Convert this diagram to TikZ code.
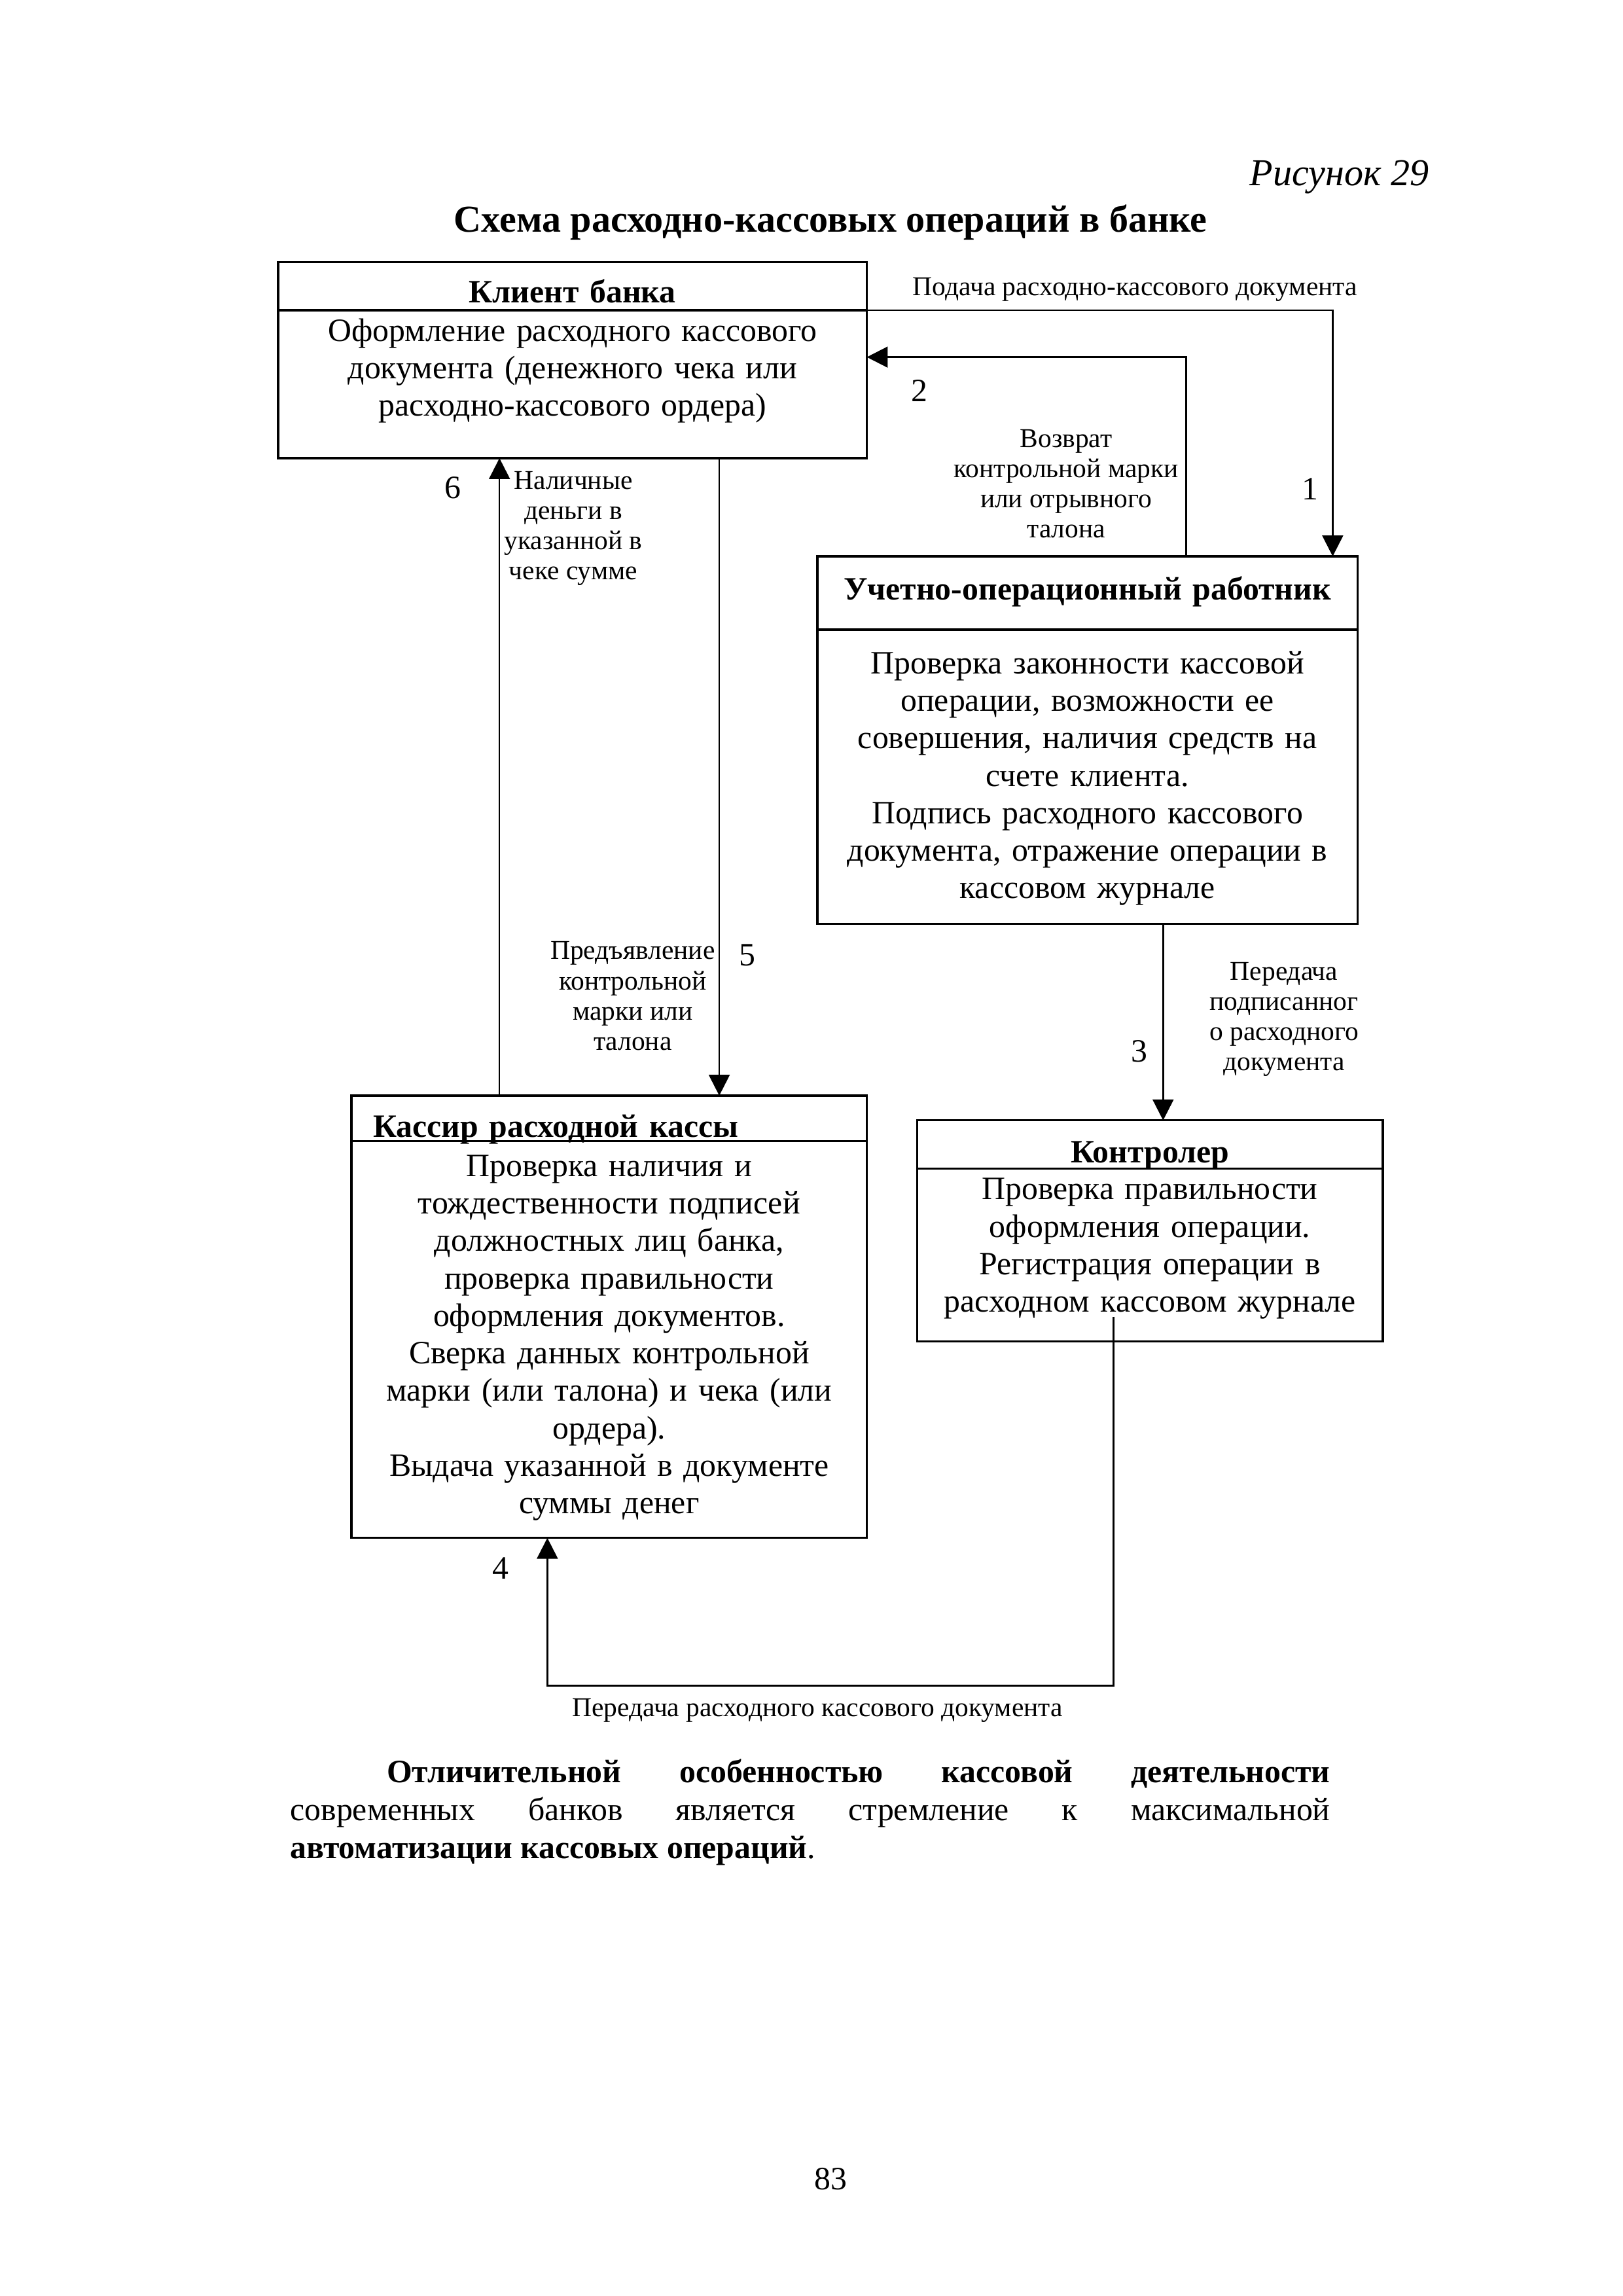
\documentclass[tikz,border=0pt]{standalone}
\usepackage{fontspec}
\setmainfont{Liberation Serif}
\usetikzlibrary{arrows.meta,positioning}

\begin{document}
\begin{tikzpicture}[
  head/.style={draw, line width=0.8pt, font=\bfseries\fontsize{12}{13.8}\selectfont,
    align=center, inner xsep=0.1cm, inner ysep=0pt, outer sep=0pt},
  body/.style={draw, line width=0.8pt, font=\fontsize{12}{13.8}\selectfont,
    align=center, inner xsep=0.1cm, inner ysep=0pt, outer sep=0pt},
  note/.style={font=\fontsize{10}{11.1}\selectfont, align=center, inner sep=0pt},
  num/.style={font=\fontsize{12}{13.8}\selectfont, inner sep=0pt},
  arrow/.style={-{Triangle[length=0.27cm, width=0.27cm]}, line width=0.6pt}
]
\useasboundingbox (0,0) rectangle (21,-29.716);

\node[anchor=east, inner sep=0pt, font=\itshape\fontsize{14}{16}\selectfont] (fignum) at (18.50,-2.29) {Рисунок 29};
\node[inner sep=0pt, font=\bfseries\fontsize{14}{16}\selectfont] (title) at (10.75,-2.88) {Схема расходно-кассовых операций в банке};

\node[head, anchor=north west, text width=7.42cm, text height=0.524cm, text depth=0.102cm] (klienthead) at (3.60,-3.39) {Клиент банка};
\node[body, below=0pt of klienthead, text width=7.42cm, text height=0.40cm, text depth=1.514cm] (klientbody)
  {Оформление расходного кассового\\документа (денежного чека или\\расходно-кассового ордера)};

\node[head, anchor=north west, text width=6.79cm, text height=0.562cm, text depth=0.386cm] (uchethead) at (10.58,-7.20) {Учетно-операционный работник};
\node[body, below=0pt of uchethead, text width=6.79cm, text height=0.571cm, text depth=3.239cm] (uchetbody)
  {Проверка законности кассовой\\операции, возможности ее\\совершения, наличия средств на\\счете клиента.\\Подпись расходного кассового\\документа, отражение операции в\\кассовом журнале};

\node[head, anchor=north west, align=left, inner xsep=0.28cm, text width=6.11cm, text height=0.542cm, text depth=0.046cm] (kasshead) at (4.55,-14.18) {Кассир расходной кассы};
\node[body, below=0pt of kasshead, text width=6.47cm, text height=0.457cm, text depth=4.679cm] (kassbody)
  {Проверка наличия и\\тождественности подписей\\должностных лиц банка,\\проверка правильности\\оформления документов.\\Сверка данных контрольной\\марки (или талона) и чека (или\\ордера).\\Выдача указанной в документе\\суммы денег};

\node[head, anchor=north west, text width=5.83cm, text height=0.552cm, text depth=0.074cm] (kontrhead) at (11.87,-14.50) {Контролер};
\node[body, below=0pt of kontrhead, text width=5.83cm, text height=0.40cm, text depth=1.836cm] (kontrbody)
  {Проверка правильности\\оформления операции.\\Регистрация операции в\\расходном кассовом журнале};

\coordinate (turn4) at (0,-21.815);

\draw[arrow] (klienthead.south east) -| ([xshift=-0.32cm]uchethead.north east);
\draw[arrow] ([xshift=1.28cm]uchethead.north) |- ([yshift=-0.606cm]klientbody.north east);
\draw[arrow] ([xshift=0.98cm]uchetbody.south) -- ([xshift=0.98cm]uchetbody.south |- kontrhead.north);
\draw[arrow] ([xshift=-0.47cm,yshift=0.32cm]kontrbody.south) coordinate (start4) -- (start4 |- turn4) -| ([xshift=-0.8cm]kassbody.south);
\draw[arrow] ([xshift=1.9cm]klientbody.south) -- ([xshift=1.9cm]klientbody.south |- kasshead.north);
\draw[arrow] ([xshift=-1.42cm]kasshead.north) -- ([xshift=-1.42cm]kasshead.north |- klientbody.south);

\node[note] (podacha) at (14.69,-3.75) {Подача расходно-кассового документа};
\node[note] (vozvrat) at (13.80,-6.26) {Возврат\\контрольной марки\\или отрывного\\талона};
\node[note] (peredacha) at (16.62,-13.19) {Передача\\подписанног\\о расходного\\документа};
\node[note] (peredachakass) at (10.58,-22.14) {Передача расходного кассового документа};
\node[note] (predjav) at (8.19,-12.89) {Предъявление\\контрольной\\марки или\\талона};
\node[note] (nalichnye) at (7.42,-6.84) {Наличные\\деньги в\\указанной в\\чеке сумме};

\node[num] (n1) at (16.96,-6.33) {1};
\node[num] (n2) at (11.90,-5.06) {2};
\node[num] (n3) at (14.75,-13.61) {3};
\node[num] (n4) at (6.48,-20.30) {4};
\node[num] (n5) at (9.67,-12.36) {5};
\node[num] (n6) at (5.86,-6.31) {6};

\node[anchor=base west, inner sep=0pt, text width=13.46cm, align=justify, font=\fontsize{12}{13.97}\selectfont] (abzac) at (3.75,-23.07)
  {\hyphenpenalty=10000\hspace*{1.25cm}\textbf{Отличительной особенностью кассовой деятельности}\linebreak
   современных банков является стремление к максимальной\linebreak
   \textbf{автоматизации кассовых операций}.};

\node[num] (page) at (10.75,-28.20) {83};
\end{tikzpicture}
\end{document}
